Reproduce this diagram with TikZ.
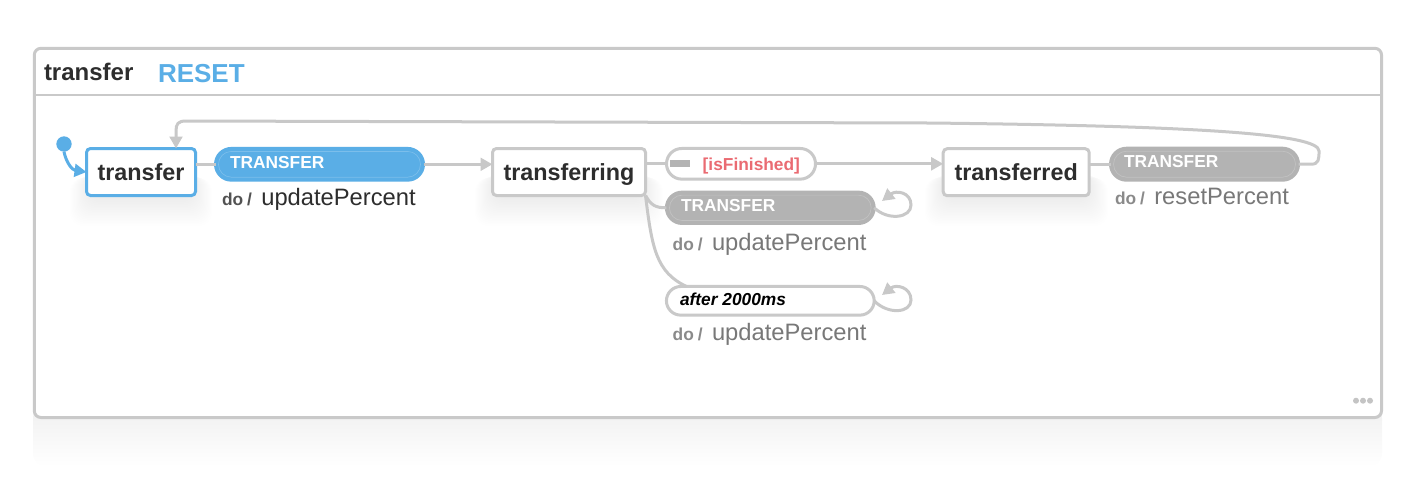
\documentclass[tikz,border=0pt]{standalone}
\usepackage{fontspec}
\setmainfont{Liberation Sans}
\usetikzlibrary{arrows.meta,calc}

\definecolor{rim}{HTML}{C9C9C9}
\definecolor{wire}{HTML}{C8C8C8}
\definecolor{ink}{HTML}{2D2D2D}
\definecolor{active}{HTML}{5AAEE6}
\definecolor{idle}{HTML}{B3B3B3}
\definecolor{muted}{HTML}{787878}
\definecolor{mutedbold}{HTML}{8A8A8A}
\definecolor{guardred}{HTML}{EA6B72}
\definecolor{dots}{HTML}{C4C4C4}

% font of the small "do /" prefix of an action
\newcommand\dofont{\fontsize{13}{15}\selectfont\bfseries}

% soft halo drawn beneath a box: corners (x1,y1) (x2,y2), colour
\newcommand\softglow[5]{%
  \foreach \k in {1,...,20}{%
    \fill[#5, opacity=0.0045, rounded corners=10pt]
      (#1-\k*1.1,#2+\k*0.4) rectangle (#3+\k*1.1,#4+\k*1.6);}}

\tikzset{
  every node/.style={inner sep=0pt, outer sep=0pt},
  wiretip/.tip={Triangle[length=9pt,width=9.5pt]},
  wireline/.style={draw=wire, line width=2.25pt},
  stepbox/.style={draw=rim, line width=2.25pt, fill=white, rounded corners=3pt,
    minimum height=35.25pt, text=ink, text height=13pt, text depth=0pt,
    font=\fontsize{17.5}{20}\selectfont\bfseries},
  pillbox/.style={line width=2.25pt},
  pilltext/.style={anchor=base west, font=\fontsize{13}{15}\selectfont\bfseries},
  desc/.style={anchor=base west, font=\fontsize{17.8}{20}\selectfont, text=muted},
}

\begin{document}
\begin{tikzpicture}[x=0.75pt,y=-0.75pt]
\useasboundingbox (0,0) rectangle (1426,480);

% shadow below the machine frame
\shade[top color=black!6, bottom color=white, rounded corners=10pt]
  (33,405) rectangle (1382,467);

% machine frame with its header
\draw[rim, line width=2.25pt, fill=white, rounded corners=5pt]
  (34.3,48.3) rectangle (1381.5,417.5);
\draw[rim, line width=1.5pt] (34.3,94.7) -- (1381.5,94.7);
\node[anchor=base west, text=ink, font=\fontsize{18}{20}\selectfont\bfseries]
  (title) at (44,80) {transfer};
\node[anchor=base west, text=active, font=\fontsize{19.5}{22}\selectfont\bfseries]
  (reset) at (158,82.5) {RESET};

% halos under the states
\softglow{92}{170}{190}{194}{active}
\softglow{497}{170}{641}{194}{black}
\softglow{947}{170}{1086}{194}{black}

% states
\node[stepbox, draw=active, minimum width=81.75pt] (s1) at (141,172) {transfer};
\node[stepbox, minimum width=114.75pt] (s2) at (569,172) {transferring};
\node[stepbox, minimum width=109.5pt] (s3) at (1016.2,172.2) {transferred};

% event pills
\node[pillbox, fill=active, draw=active, rounded corners=11.9pt,
      minimum width=156pt, minimum height=23.8pt] (p1) at (319.5,164.3) {};
\node[pillbox, fill=white, draw=rim, rounded corners=11.5pt,
      minimum width=111.75pt, minimum height=23pt] (g1) at (741,163.8) {};
\node[pillbox, fill=idle, draw=idle, rounded corners=11.75pt,
      minimum width=155.8pt, minimum height=23.5pt] (p2) at (770.3,207.8) {};
\node[pillbox, fill=white, draw=rim, rounded corners=10.75pt,
      minimum width=155.8pt, minimum height=21.5pt] (p3) at (770.3,300.8) {};
\node[pillbox, fill=idle, draw=idle, rounded corners=12pt,
      minimum width=141pt, minimum height=24pt] (g3) at (1204.5,164.2) {};

% faint inner rings of the filled pills
\foreach \p/\r in {p1/9.6pt, p2/9.5pt, g3/9.8pt}
  \draw[white, opacity=0.2, line width=0.5pt, rounded corners=\r]
    ($(\p.south west)+(3,-3)$) rectangle ($(\p.north east)+(-3,3)$);

% guard marker
\fill[idle] (670,160) rectangle (690,166.7);

% pill labels
\node[pilltext, text=white] (lp1) at (230,168) {TRANSFER};
\node[pilltext, text=guardred] (lg1) at (702.7,170) {[isFinished]};
\node[pilltext, text=white] (lp2) at (681,211.7) {TRANSFER};
\node[pilltext, text=black, font=\fontsize{13}{15}\selectfont\bfseries\itshape]
  (lp3) at (680,305) {after 2000ms};
\node[pilltext, text=white] (lg3) at (1124,167.3) {TRANSFER};

% actions
\node[desc, text=ink] (d1) at (222,205.7)
  {{\dofont\color{black!68}do\hspace{3pt}/}\hspace{7pt}updatePercent};
\node[desc] (d2) at (672.7,250)
  {{\dofont\color{mutedbold}do\hspace{3pt}/}\hspace{7pt}updatePercent};
\node[desc] (d3) at (672.7,340.7)
  {{\dofont\color{mutedbold}do\hspace{3pt}/}\hspace{7pt}updatePercent};
\node[desc] (d4) at (1115,204.3)
  {{\dofont\color{mutedbold}do\hspace{3pt}/}\hspace{7pt}resetPercent};

% initial pseudo-state
\node[circle, fill=active, minimum size=11.5pt] (init) at (64,144) {};
\draw[draw=active, line width=2.25pt, -{wiretip}]
  (init.south) .. controls (66,162) and (72,170) .. (s1.west);

% transitions
\draw[wireline] (s1.east |- p1.west) -- (p1.west);
\draw[wireline, -{wiretip}] (p1.east) -- (s2.west |- p1.east);
\draw[wireline] (s2.east |- g1.west) -- (g1.west);
\draw[wireline, -{wiretip}] (g1.east) -- (s3.west |- g1.east);
\draw[wireline] (s2.south east) .. controls (651,205) and (655,207.8) .. (p2.west);
\draw[wireline] (s2.south east) .. controls (652,248) and (656,272) .. ($(p3.north west)+(20,0)$);
\draw[wireline] (s3.east |- g3.west) -- (g3.west);

% self loops
\draw[wireline, -{wiretip}]
  (p2.east) .. controls (888,221) and (911,218) .. (911,205)
            .. controls (911,192) and (896,190) .. (882,201);
\draw[wireline, -{wiretip}]
  (p3.east) .. controls (888,315) and (911,313) .. (911,300)
            .. controls (911,287) and (896,284) .. (882,295);

% return path back to the first state
\coordinate (ret) at (176,0);
\draw[wireline, -{wiretip}]
  (g3.east) -- (1311,164.2) .. controls (1319,164.2) and (1319,159) .. (1319,151)
  .. controls (1319,134) and (1200,126) .. (930,123) -- (186,121)
  .. controls (178,121) and (176,124) .. (176,131) -- (ret |- s1.north);

% corner menu dots
\foreach \x in {1356,1363,1370}
  \fill[dots] (\x,400.7) circle (3);
\end{tikzpicture}
\end{document}
